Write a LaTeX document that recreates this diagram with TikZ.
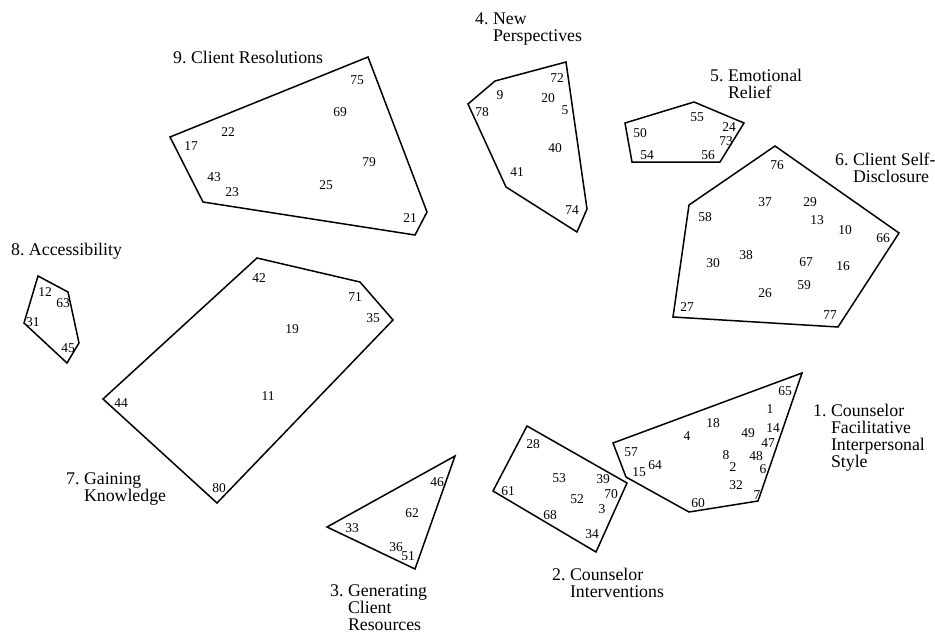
\documentclass[tikz,border=0pt]{standalone}
\usepackage{fontspec}
\setmainfont{Liberation Serif}
\begin{document}
\begin{tikzpicture}[x=1pt,y=-1pt,
  hull/.style={line width=1.5pt, line join=miter},
  num/.style={font=\fontsize{13.5}{13.5}\selectfont, inner sep=0pt},
  lab/.style={font=\fontsize{17.8}{17}\selectfont, align=left, inner sep=0pt, anchor=north west}]
\useasboundingbox (0,0) rectangle (935,635);

% ---- Cluster 9
\draw[hull] (170,137) -- (368,57) -- (427,212) -- (415,235) -- (203,202) -- cycle;
\foreach \n/\x/\y in {75/357/80, 69/340/112, 22/228/132, 17/191/146, 79/369/162, 43/214/177, 23/232/192, 25/326/185, 21/410/218}
  \node[num] (n\n) at (\x,\y) {\n};
\node[lab] (l9) at (173,51) {9.~Client Resolutions};

% ---- Cluster 4
\draw[hull] (468,104) -- (495,81) -- (566,62) -- (587,209) -- (577,232) -- (506,187) -- cycle;
\foreach \n/\x/\y in {9/500/95, 72/557/78, 20/548/98, 78/482/112, 5/565/110, 40/555/148, 41/517/172, 74/572/210}
  \node[num] (n\n) at (\x,\y) {\n};
\node[lab] (l4) at (475,13) {4.~New\\\hphantom{4.~}Perspectives};

% ---- Cluster 5
\draw[hull] (625,123) -- (694,102) -- (744,123) -- (720,162) -- (632,162) -- cycle;
\foreach \n/\x/\y in {55/697/117, 50/640/133, 24/729/127, 73/726/141, 54/647/155, 56/708/155}
  \node[num] (n\n) at (\x,\y) {\n};
\node[lab] (l5) at (710,69) {5.~Emotional\\\hphantom{5.~}Relief};

% ---- Cluster 6
\draw[hull] (689,205) -- (775,146) -- (899,233) -- (838,327) -- (673,317) -- cycle;
\foreach \n/\x/\y in {76/777/165, 37/765/202, 29/810/202, 58/705/217, 13/817/220, 10/845/230, 66/883/238, 30/713/263, 38/746/255, 67/806/262, 16/843/266, 59/804/285, 26/765/293, 27/687/307, 77/830/315}
  \node[num] (n\n) at (\x,\y) {\n};
\node[lab] (l6) at (835,153) {6.~Client Self-\\\hphantom{6.~}Disclosure};

% ---- Cluster 8
\draw[hull] (38,276) -- (68,292) -- (79,343) -- (67,363) -- (24,323) -- cycle;
\foreach \n/\x/\y in {12/45/292, 63/63/303, 31/33/322, 45/68/348}
  \node[num] (n\n) at (\x,\y) {\n};
\node[lab] (l8) at (11,243) {8.~Accessibility};

% ---- Cluster 7
\draw[hull] (103,399) -- (257,258) -- (360,282) -- (393,320) -- (217,503) -- cycle;
\foreach \n/\x/\y in {42/259/278, 71/355/297, 35/373/318, 19/292/329, 11/268/396, 44/121/403, 80/219/488}
  \node[num] (n\n) at (\x,\y) {\n};
\node[lab] (l7) at (66,473) {7.~Gaining\\\hphantom{7.~}Knowledge};

% ---- Cluster 3
\draw[hull] (327,527) -- (455,456) -- (415,569) -- cycle;
\foreach \n/\x/\y in {46/437/482, 62/412/513, 33/352/528, 36/396/547, 51/408/556}
  \node[num] (n\n) at (\x,\y) {\n};
\node[lab] (l3) at (330,585) {3.~Generating\\\hphantom{3.~}Client\\\hphantom{3.~}Resources};

% ---- Cluster 2
\draw[hull] (527,426) -- (627,483) -- (596,552) -- (493,491) -- cycle;
\foreach \n/\x/\y in {28/533/444, 53/559/478, 39/603/479, 61/508/491, 70/611/494, 52/577/499, 3/602/509, 68/550/515, 34/592/534}
  \node[num] (n\n) at (\x,\y) {\n};
\node[lab] (l2) at (552,568) {2.~Counselor\\\hphantom{2.~}Interventions};

% ---- Cluster 1
\draw[hull] (613,443) -- (802,373) -- (758,501) -- (689,512) -- (626,477) -- cycle;
\foreach \n/\x/\y in {65/785/391, 1/770/409, 18/713/423, 14/773/428, 4/687/436, 49/748/433, 47/768/443, 57/631/452, 8/726/455, 48/756/456, 64/655/465, 2/733/467, 15/639/472, 6/763/469, 32/736/485, 7/757/495, 60/698/503}
  \node[num] (n\n) at (\x,\y) {\n};
\node[lab] (l1) at (813,404) {1.~Counselor\\\hphantom{1.~}Facilitative\\\hphantom{1.~}Interpersonal\\\hphantom{1.~}Style};
\end{tikzpicture}
\end{document}
